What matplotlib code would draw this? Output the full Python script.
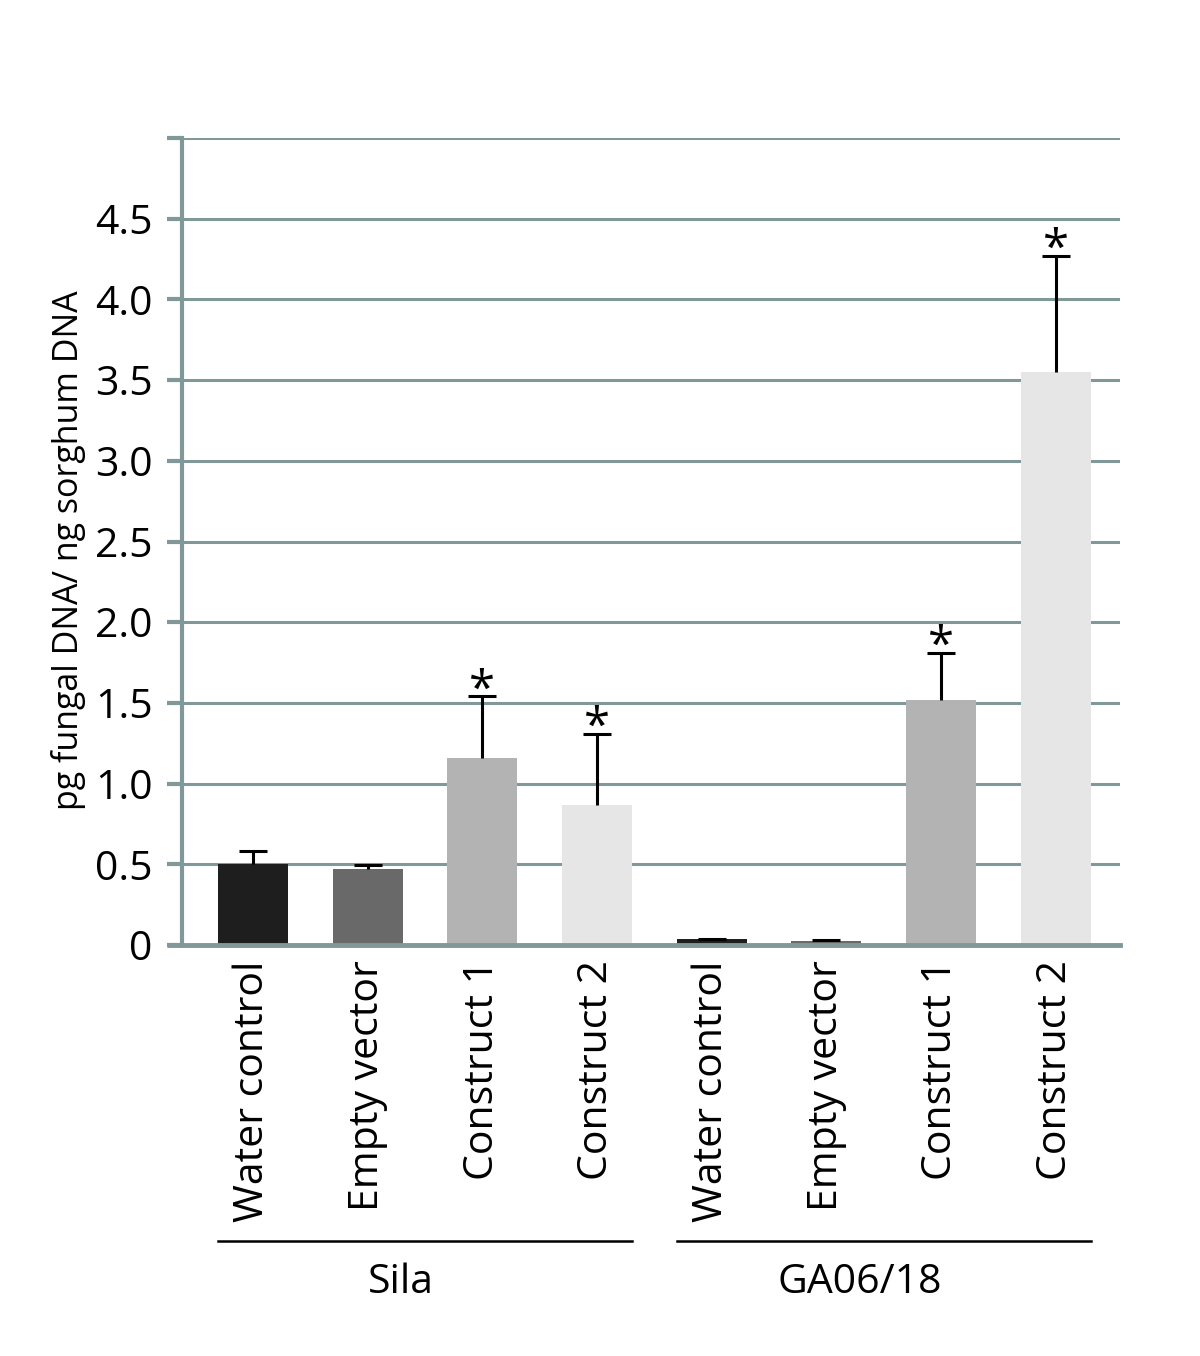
import matplotlib
matplotlib.use("Agg")
import matplotlib.pyplot as plt
import matplotlib.transforms as mtransforms
import numpy as np

plt.rcParams['font.family'] = ['Open Sans', 'DejaVu Sans']

# data
categories = ["Water control", "Empty vector", "Construct 1", "Construct 2",
              "Water control", "Empty vector", "Construct 1", "Construct 2"]
groups = ["Sila", "GA06/18"]
means = [0.50, 0.47, 1.16, 0.87, 0.035, 0.025, 1.52, 3.55]
upper_err = [0.08, 0.025, 0.38, 0.44, 0.005, 0.005, 0.29, 0.72]
significant = [False, False, True, True, False, False, True, True]
bar_colors = ["#1e1e1e", "#696969", "#b3b3b3", "#e6e6e6"] * 2
ytick_values = [0, 0.5, 1.0, 1.5, 2.0, 2.5, 3.0, 3.5, 4.0, 4.5, 5.0]
ytick_labels = ["0", "0.5", "1.0", "1.5", "2.0", "2.5", "3.0", "3.5", "4.0", "4.5", ""]

axis_col = "#819898"
fs = 29.5

fig = plt.figure(figsize=(12, 13.56), dpi=100)
ax = fig.add_axes([0.1517, 0.3031, 0.7816, 0.5951])

x = np.arange(len(means))
width = 0.61
ax.bar(x, means, width=width, color=bar_colors, zorder=2)
eb = ax.errorbar(x, means, yerr=[np.zeros(len(means)), upper_err], fmt='none',
                 ecolor='black', elinewidth=2.2, capsize=10, capthick=2.2, zorder=3)
# only the upper cap is drawn in the original
eb[1][0].set_visible(False)

for xi, m, e, s in zip(x, means, upper_err, significant):
    if s:
        ax.annotate("*", (xi, m + e), xytext=(0, -5), textcoords='offset points',
                    ha='center', va='baseline', fontsize=34, zorder=4)

ax.set_xlim(-0.62, 7.56)
ax.set_ylim(0, 5.0)
ax.set_yticks(ytick_values)
ax.set_yticklabels(ytick_labels, fontsize=fs)
ax.yaxis.grid(True, color=axis_col, linewidth=2.2, zorder=0)
ax.set_axisbelow(True)
ax.tick_params(axis='y', length=11, width=3, color=axis_col, pad=10)

ax.set_xticks(x)
ax.set_xticklabels(categories, rotation=90, fontsize=fs, va='top')
ax.tick_params(axis='x', length=0, pad=11)

for side in ['top', 'right']:
    ax.spines[side].set_visible(False)
ax.spines['left'].set_color(axis_col)
ax.spines['left'].set_linewidth(3)
ax.spines['bottom'].set_color(axis_col)
ax.spines['bottom'].set_linewidth(3.5)
ax.spines['bottom'].set_zorder(5)
# bottom axis extends left like a tick
ax.plot([-0.62 - 0.13, -0.62], [0, 0], color=axis_col, linewidth=3.5,
        clip_on=False, solid_capstyle='butt', zorder=5)

fig.text(0.057, 0.594, "pg fungal DNA/ ng sorghum DNA", rotation=90,
         ha='center', va='center', fontsize=24.5)

trans = mtransforms.blended_transform_factory(ax.transData, ax.transAxes)
for gi, g in enumerate(groups):
    x0 = gi * 4 - width / 2
    x1 = gi * 4 + 3 + width / 2
    ax.plot([x0, x1], [-0.367, -0.367], color='black', linewidth=1.8,
            transform=trans, clip_on=False)
    ax.text((x0 + x1) / 2 - 0.21, -0.419, g, transform=trans, ha='center',
            va='center', fontsize=fs)

fig.savefig("out.png", dpi=100)
